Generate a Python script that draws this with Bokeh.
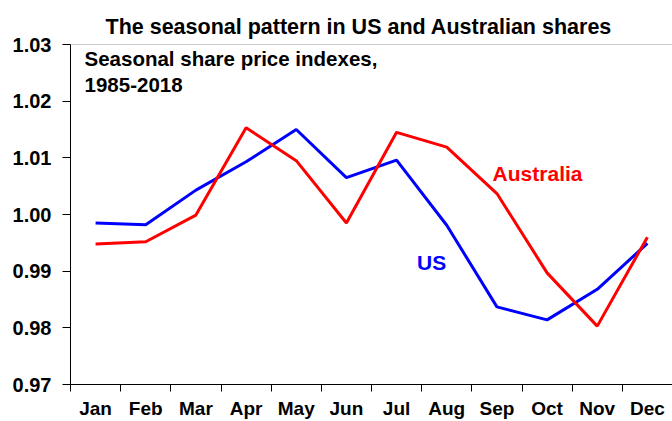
from bokeh.plotting import figure
from bokeh.models import FixedTicker, Span, Label, NumeralTickFormatter, Range1d
from bokeh.embed import file_html
from bokeh.resources import INLINE

months = ["Jan", "Feb", "Mar", "Apr", "May", "Jun", "Jul", "Aug", "Sep", "Oct", "Nov", "Dec"]
us = [0.9985, 0.9982, 1.0043, 1.0093, 1.0150, 1.0065, 1.0096, 0.9981, 0.9837, 0.9814, 0.9868, 0.9949]
australia = [0.9948, 0.9952, 0.9999, 1.0153, 1.0095, 0.9985, 1.0145, 1.0119, 1.0037, 0.9897, 0.9803, 0.9960]
y_ticks = [0.97, 0.98, 0.99, 1.00, 1.01, 1.02, 1.03]

title_text = "The seasonal pattern in US and Australian shares"
note_lines = ["Seasonal share price indexes,", "1985-2018"]

FONT = "Liberation Sans"
x = [i + 0.5 for i in range(len(months))]

p = figure(width=672, height=421, frame_width=602, frame_height=340,
           min_border_left=70, min_border_right=0, min_border_top=44, min_border_bottom=37,
           output_backend="svg", toolbar_location=None,
           x_range=Range1d(0, len(months)), y_range=Range1d(y_ticks[0], y_ticks[-1]))

p.title.text = title_text
p.title.text_font = FONT
p.title.text_font_size = "21.5px"
p.title.text_font_style = "bold"
p.title.text_color = "black"
p.title.align = "left"
p.title.offset = 35
p.title.standoff = 12

p.outline_line_color = None
p.grid.grid_line_color = None
p.background_fill_color = "white"
p.border_fill_color = "white"

p.line(x, us, line_color="#0000ff", line_width=3)
p.line(x, australia, line_color="#ff0000", line_width=3)

# top border
p.add_layout(Span(location=y_ticks[-1], dimension="width", line_color="#999999", line_width=1))

xa = p.xaxis[0]
xa.ticker = FixedTicker(ticks=x, minor_ticks=list(range(len(months) + 1)))
xa.major_label_overrides = {xi: m for xi, m in zip(x, months)}
xa.major_tick_line_color = None
xa.minor_tick_line_color = "black"
xa.minor_tick_in = 0
xa.minor_tick_out = 7
xa.axis_line_color = "black"
xa.major_label_text_font = FONT
xa.major_label_text_font_size = "19px"
xa.major_label_text_font_style = "bold"
xa.major_label_text_color = "black"
xa.major_label_standoff = 6

ya = p.yaxis[0]
ya.ticker = FixedTicker(ticks=y_ticks, minor_ticks=[])
ya.formatter = NumeralTickFormatter(format="0.00")
ya.major_tick_in = 0
ya.major_tick_out = 8
ya.major_tick_line_color = "black"
ya.axis_line_color = "black"
ya.major_label_text_font = FONT
ya.major_label_text_font_size = "20px"
ya.major_label_text_font_style = "bold"
ya.major_label_text_color = "black"
ya.major_label_standoff = 11

for txt, yy in zip(note_lines, [1.0276, 1.0229]):
    p.add_layout(Label(x=0.28, y=yy, text=txt, text_font=FONT, text_font_size="20.5px",
                       text_font_style="bold", text_color="black", text_baseline="middle"))

p.add_layout(Label(x=9.31, y=1.0073, text="Australia", text_font=FONT, text_font_size="21px",
                   text_font_style="bold", text_color="#ff0000", text_align="center",
                   text_baseline="middle"))
p.add_layout(Label(x=7.2, y=0.9915, text="US", text_font=FONT, text_font_size="21px",
                   text_font_style="bold", text_color="#0000ff", text_align="center",
                   text_baseline="middle"))

open("out.html", "w").write(file_html(p, INLINE))
